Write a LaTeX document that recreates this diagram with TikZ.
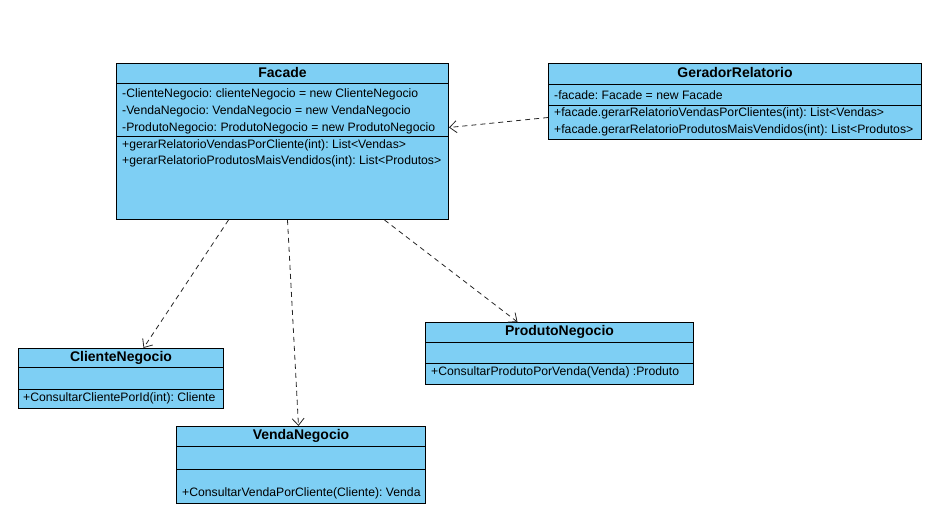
\documentclass[tikz,border=0pt]{standalone}
\usepackage{fontspec}
\setmainfont{Liberation Sans}
\usetikzlibrary{calc,arrows.meta,positioning}
\definecolor{umlblue}{HTML}{7ECFF4}
\frenchspacing

\begin{document}
\begin{tikzpicture}[x=1pt,y=-1pt,inner sep=0pt]
      % Styles
      \tikzset{box/.style={draw=black,fill=umlblue,line width=1pt,anchor=north west},
               sep/.style={black,line width=1pt},
               title/.style={font=\bfseries\fontsize{14}{16}\selectfont},
               member/.style={anchor=west,font=\fontsize{12.2}{14}\selectfont},
               dep/.style={-{Straight Barb[length=7pt,width=12pt]},dash pattern=on 5pt off 4pt,black!85,line width=0.8pt}}

      \useasboundingbox (0,0) rectangle (942,509);

      % Facade
      \node[box,minimum width=332pt,minimum height=156pt] (facade) at (116,63) {};
      \draw[sep] ([yshift=-20pt]facade.north west) -- ([yshift=-20pt]facade.north east);
      \draw[sep] ([yshift=-73pt]facade.north west) -- ([yshift=-73pt]facade.north east);
      \node[title] (facadeName) at ([yshift=-9.5pt]facade.north) {Facade};
      \foreach \y/\txt in {31/{-ClienteNegocio: clienteNegocio = new ClienteNegocio},
                           48/{-VendaNegocio: VendaNegocio = new VendaNegocio},
                           65/{-ProdutoNegocio: ProdutoNegocio = new ProdutoNegocio},
                           82/{+gerarRelatorioVendasPorCliente(int): List<Vendas>},
                           98/{+gerarRelatorioProdutosMaisVendidos(int): List<Produtos>}}
        \node[member] at ([xshift=6pt,yshift=-\y pt]facade.north west) {\txt};

      % GeradorRelatorio
      \node[box,minimum width=373pt,minimum height=76pt] (gerador) at (548,63) {};
      \draw[sep] ([yshift=-21pt]gerador.north west) -- ([yshift=-21pt]gerador.north east);
      \draw[sep] ([yshift=-42pt]gerador.north west) -- ([yshift=-42pt]gerador.north east);
      \node[title] (geradorName) at ([yshift=-9.5pt]gerador.north) {GeradorRelatorio};
      \foreach \y/\txt in {32/{-facade: Facade = new Facade},
                           50/{+facade.gerarRelatorioVendasPorClientes(int): List<Vendas>},
                           67/{+facade.gerarRelatorioProdutosMaisVendidos(int): List<Produtos>}}
        \node[member] at ([xshift=6pt,yshift=-\y pt]gerador.north west) {\txt};

      % ClienteNegocio
      \node[box,minimum width=205pt,minimum height=60pt] (cliente) at (18,348) {};
      \draw[sep] ([yshift=-19pt]cliente.north west) -- ([yshift=-19pt]cliente.north east);
      \draw[sep] ([yshift=-41pt]cliente.north west) -- ([yshift=-41pt]cliente.north east);
      \node[title] (clienteName) at ([yshift=-9.5pt]cliente.north) {ClienteNegocio};
      \node[member] (clienteOp) at ([xshift=5pt,yshift=-50.5pt]cliente.north west) {+ConsultarClientePorId(int): Cliente};

      % VendaNegocio
      \node[box,minimum width=249pt,minimum height=77pt] (venda) at (176,426) {};
      \draw[sep] ([yshift=-20pt]venda.north west) -- ([yshift=-20pt]venda.north east);
      \draw[sep] ([yshift=-43pt]venda.north west) -- ([yshift=-43pt]venda.north east);
      \node[title] (vendaName) at ([yshift=-10pt]venda.north) {VendaNegocio};
      \node[member] (vendaOp) at ([xshift=6pt,yshift=-67.5pt]venda.north west) {+ConsultarVendaPorCliente(Cliente): Venda};

      % ProdutoNegocio
      \node[box,minimum width=268pt,minimum height=62pt] (produto) at (425,322) {};
      \draw[sep] ([yshift=-20pt]produto.north west) -- ([yshift=-20pt]produto.north east);
      \draw[sep] ([yshift=-41pt]produto.north west) -- ([yshift=-41pt]produto.north east);
      \node[title] (produtoName) at ([yshift=-9.5pt]produto.north) {ProdutoNegocio};
      \node[member] (produtoOp) at ([xshift=6pt,yshift=-50.5pt]produto.north west) {+ConsultarProdutoPorVenda(Venda) :Produto};

      % dependencies
      \draw[dep] ([yshift=-16pt]gerador.west) -- ([yshift=14pt]facade.east);
      \draw[dep] ([xshift=-54pt]facade.south) -- ([xshift=22.5pt]cliente.north);
      \draw[dep] ([xshift=5pt]facade.south) -- ([xshift=-2.5pt]venda.north);
      \draw[dep] ([xshift=102pt]facade.south) -- ([xshift=-42pt]produto.north);
\end{tikzpicture}
\end{document}
